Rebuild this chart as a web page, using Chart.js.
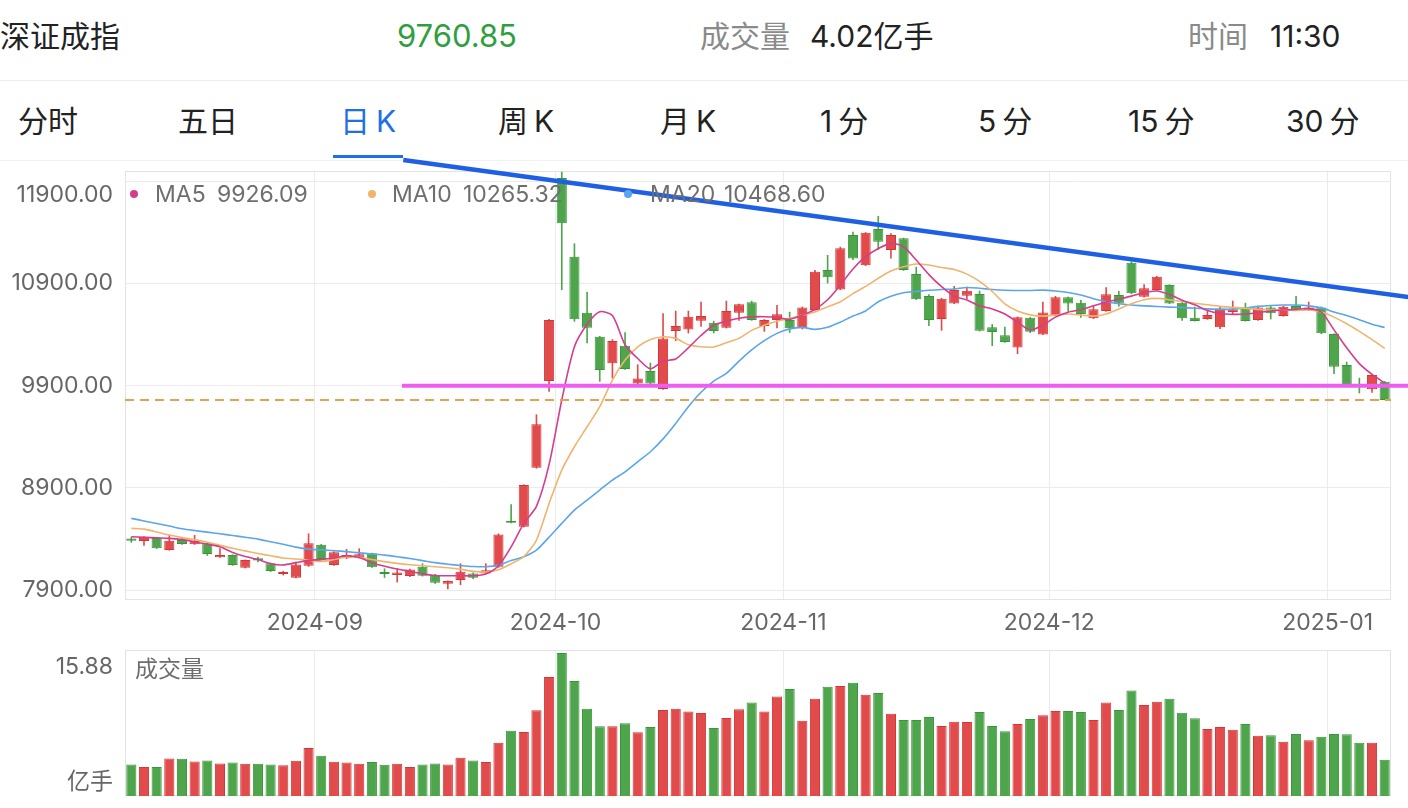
<!DOCTYPE html>
<html lang="zh-CN">
<head>
<meta charset="utf-8">
<title>深证成指 日K</title>
<script src="https://cdn.jsdelivr.net/npm/chart.js@4.4.1/dist/chart.umd.min.js"></script>
<style>
  body { margin: 0; background: #fff; font-family: Inter, "Noto Sans CJK SC", sans-serif; }
  #page { position: relative; width: 1408px; height: 808px; overflow: hidden; background: #fff; }
  .t { position: absolute; white-space: nowrap; line-height: 40px; }
  .hd { font-size: 30px; color: #222; top: 16px; }
  .grey { color: #8a8a8a; }
  .tab { font-size: 30px; color: #222; top: 101px; }
  .tab .l { margin-left: 6px; }
  .lg { font-size: 23px; color: #6e6e6e; top: 174px; }
  .dot { position: absolute; width: 8px; height: 8px; border-radius: 50%; top: 190px; }
  .sep { position: absolute; left: 0; width: 1408px; height: 1px; background: #ededed; }
  canvas { position: absolute; left: 0; }
</style>
</head>
<body>
<div id="page">
  <div class="t hd" style="left:0px">深证成指</div>
  <div class="t hd" style="left:397px;font-size:31px;color:#2f9e3f">9760.85</div>
  <div class="t hd grey" style="left:700px">成交量</div>
  <div class="t hd" style="left:810px">4.02亿手</div>
  <div class="t hd grey" style="left:1188px">时间</div>
  <div class="t hd" style="left:1270px">11:30</div>
  <div class="sep" style="top:80px"></div>

  <div class="t tab" style="left:18px">分时</div>
  <div class="t tab" style="left:178px">五日</div>
  <div class="t tab" style="left:340px;color:#1f6fe5">日<span class="l">K</span></div>
  <div class="t tab" style="left:498px">周<span class="l">K</span></div>
  <div class="t tab" style="left:660px">月<span class="l">K</span></div>
  <div class="t tab" style="left:820px">1<span class="l">分</span></div>
  <div class="t tab" style="left:978px">5<span class="l">分</span></div>
  <div class="t tab" style="left:1128px">15<span class="l">分</span></div>
  <div class="t tab" style="left:1286px">30<span class="l">分</span></div>
  <div class="sep" style="top:160px;background:#f2f2f2"></div>
  <div style="position:absolute;left:333px;top:155px;width:70px;height:3px;background:#1f6fe5"></div>

  <canvas id="price" width="1408" height="490" style="top:150px"></canvas>
  <canvas id="volume" width="1408" height="168" style="top:640px"></canvas>

  <div class="dot" style="left:130px;background:#d63c8c"></div>
  <div class="t lg" style="left:155px">MA5</div>
  <div class="t lg" style="left:217px" id="lg5"></div>
  <div class="dot" style="left:368px;background:#f0b46e"></div>
  <div class="t lg" style="left:392px">MA10</div>
  <div class="t lg" style="left:463px" id="lg10"></div>
  <div class="dot" style="left:624px;background:#5aa5eb"></div>
  <div class="t lg" style="left:650px">MA20</div>
  <div class="t lg" style="left:724px" id="lg20"></div>
  <div class="t lg" style="left:135px;top:649px">成交量</div>
</div>
<script>
// trading days 2024-08-12 .. 2025-01-08, index of first day of each month
const monthStartIdx = [15, 34, 52, 73, 95];
const monthLabels = ['2024-09', '2024-10', '2024-11', '2024-12', '2025-01'];
const priceTicks = [7900, 8900, 9900, 10900, 11900];

const open = [8405,8381,8410,8293,8391,8349,8359,8222,8244,8120,
  8212,8163,8058,8022,8140,8345,8146,8212,8218,8261,
  8075,8049,8039,8130,8049,7964,8000,8065,8065,8130,
  8575,8521,9097,9945,11930,11160,10613,10378,10118,10290,
  9922,10043,9867,10434,10450,10534,10515,10466,10613,10714,
  10483,10541,10541,10460,10639,11030,10841,11372,11076,11431,
  11226,11340,10991,10776,10551,10704,10779,10795,10470,10392,
  10274,10564,10401,10583,10763,10710,10558,10629,10786,11101,
  10769,10834,10883,10710,10564,10551,10470,10620,10665,10541,
  10665,10580,10678,10639,10665,10404,10101,9905,9864,9938];
const high = [8423,8428,8415,8440,8410,8440,8368,8310,8250,8200,
  8228,8170,8090,8179,8456,8352,8280,8303,8310,8268,
  8114,8114,8110,8163,8060,7995,8163,8075,8163,8455,
  8740,8935,9619,10551,11990,11291,10818,10385,10353,10421,
  10108,10124,10607,10632,10632,10720,10534,10730,10700,10730,
  10550,10688,10622,10672,11030,11177,11258,11404,11400,11558,
  11389,11345,11062,10793,10758,10874,10867,10828,10502,10476,
  10575,10570,10720,10776,10770,10737,10688,10861,10825,11115,
  10890,10972,10890,10716,10672,10629,10672,10730,10710,10678,
  10678,10680,10776,10720,10672,10410,10134,9977,10010,9945];
const low = [8365,8335,8305,8288,8345,8345,8237,8218,8140,8115,
  8173,8080,8045,8018,8130,8198,8140,8205,8212,8120,
  8022,7977,8030,8035,7965,7909,7951,8010,8060,8120,
  8555,8515,9090,9840,10834,10525,10314,9938,9971,10055,
  9915,9915,9860,10336,10411,10476,10411,10460,10534,10535,
  10427,10460,10417,10450,10632,10900,10835,11128,11070,11226,
  11144,11023,10738,10483,10437,10698,10744,10430,10287,10320,
  10209,10415,10395,10578,10622,10564,10552,10622,10672,10795,
  10762,10828,10698,10534,10528,10545,10453,10600,10528,10535,
  10548,10575,10640,10632,10405,10013,9885,9825,9831,9758];
const close = [8385,8423,8310,8384,8352,8381,8254,8244,8146,8195,
  8192,8088,8078,8153,8359,8205,8271,8244,8251,8124,
  8058,8075,8104,8042,7974,7990,8081,8022,8095,8446,
  8560,8928,9522,10541,11487,10548,10466,10052,10336,10062,
  9971,9922,10362,10483,10573,10580,10434,10629,10695,10541,
  10541,10597,10460,10665,11013,10959,11242,11144,11395,11307,
  11372,11030,10744,10541,10750,10834,10828,10437,10424,10326,
  10568,10427,10616,10763,10704,10600,10646,10793,10704,10802,
  10851,10965,10704,10558,10532,10590,10655,10646,10532,10665,
  10607,10672,10646,10665,10411,10085,9889,9895,10004,9760.85];

const ma5 = [8423,8418,8412,8407,8395,8375,8350,8325,8270,8230,
  8200,8160,8148,8170,8192,8200,8215,8237,8220,8170,
  8135,8108,8085,8060,8045,8042,8042,8042,8060,8140,
  8325,8554,8720,9130,9760,10280,10500,10622,10585,10300,
  10165,10065,10140,10160,10270,10390,10490,10530,10558,10572,
  10574,10568,10548,10590,10646,10740,10883,11040,11160,11240,
  11291,11258,11128,10985,10867,10775,10737,10680,10650,10600,
  10520,10444,10492,10570,10618,10642,10680,10715,10745,10775,
  10810,10825,10790,10735,10690,10635,10605,10597,10600,10615,
  10630,10639,10646,10653,10620,10445,10270,10115,10010,9926.09];
const ma10 = [8505,8498,8470,8440,8415,8395,8370,8340,8310,8285,
  8260,8237,8215,8205,8195,8182,8200,8225,8222,8200,
  8180,8163,8150,8140,8130,8120,8105,8085,8078,8100,
  8160,8228,8391,8749,9075,9303,9498,9694,9955,10150,
  10280,10350,10378,10362,10300,10280,10278,10320,10362,10440,
  10490,10530,10558,10590,10620,10670,10720,10800,10870,10950,
  11020,11062,11089,11080,11055,11035,10990,10920,10820,10700,
  10630,10592,10580,10590,10600,10590,10580,10600,10650,10700,
  10740,10753,10740,10722,10706,10690,10675,10665,10655,10646,
  10640,10638,10636,10639,10620,10570,10505,10430,10350,10265.32];
const ma20 = [8603,8578,8553,8528,8502,8484,8468,8452,8436,8418,
  8400,8375,8350,8322,8302,8295,8287,8278,8266,8255,
  8244,8228,8210,8190,8170,8155,8142,8132,8130,8146,
  8190,8228,8293,8420,8554,8684,8782,8880,8977,9058,
  9156,9254,9380,9531,9694,9835,9945,10020,10140,10250,
  10340,10411,10455,10470,10450,10470,10520,10580,10630,10720,
  10775,10808,10820,10832,10840,10845,10860,10852,10840,10832,
  10830,10830,10834,10825,10810,10786,10750,10720,10700,10688,
  10680,10674,10668,10664,10657,10650,10646,10648,10660,10675,
  10684,10688,10688,10680,10660,10620,10585,10545,10500,10468.60];

// volume, 亿手
const vol = [3.50,3.23,3.23,4.17,4.13,3.83,3.95,3.61,3.72,3.57,
  3.57,3.50,3.42,3.90,5.32,4.46,3.79,3.72,3.57,3.76,
  3.46,3.57,3.23,3.50,3.61,3.50,4.24,3.95,3.76,5.91,
  7.25,7.10,9.52,13.20,15.88,12.75,9.67,7.74,7.74,8.07,
  7.07,7.66,9.55,9.67,9.37,9.22,7.55,8.66,9.63,10.37,
  9.37,11.04,11.86,8.36,10.78,12.12,12.20,12.56,11.23,11.42,
  9.14,8.44,8.44,8.77,7.77,8.25,8.21,9.33,7.77,7.18,
  7.99,8.55,8.96,9.44,9.44,9.33,8.44,10.37,9.55,11.71,
  10.11,10.45,10.78,9.25,8.63,7.44,7.66,7.36,7.99,6.69,
  6.73,6.02,6.88,6.18,6.58,6.88,6.84,5.91,5.91,4.02];

// hand-drawn lines: [day index, price]
const trendX = [21.48, 100.92];
const trendY = [12105, 10766];
const supportX = [21.37, 100.92];
const supportY = [9900, 9900];
const lastPrice = 9760.85;

const RED = '#e24b4b', RED_EDGE = '#d23636';
const GREEN = '#4fa54c', GREEN_EDGE = '#3b953a';
const FONT = 'Inter, "Noto Sans CJK SC", sans-serif';

document.getElementById('lg5').textContent = ma5[ma5.length - 1].toFixed(2);
document.getElementById('lg10').textContent = ma10[ma10.length - 1].toFixed(2);
document.getElementById('lg20').textContent = ma20[ma20.length - 1].toFixed(2);

const n = close.length;
const up = close.map((c, i) => c >= open[i]);
const fill = up.map(u => u ? RED : GREEN);
const edge = up.map(u => u ? RED_EDGE : GREEN_EDGE);
const pts = arr => arr.map((v, i) => ({ x: i, y: v }));

const boxPlugin = {
  id: 'box',
  beforeDatasetsDraw(chart) {
    const { ctx, chartArea: a } = chart;
    ctx.save();
    ctx.strokeStyle = '#e3e3e3';
    ctx.lineWidth = 1;
    ctx.strokeRect(a.left + 0.5, a.top + 0.5, a.right - a.left - 1, a.bottom - a.top - 1);
    ctx.restore();
  }
};

// y labels, pushed inside the plot when the tick sits on its edge
function sideLabels(items, inTop, inBottom) {
  return {
    id: 'sideLabels',
    afterDraw(chart) {
      const { ctx, chartArea: a, scales } = chart;
      ctx.save();
      ctx.font = '23px ' + FONT;
      ctx.fillStyle = '#666';
      ctx.textAlign = 'right';
      ctx.textBaseline = 'middle';
      items.forEach(it => {
        let y = scales.y.getPixelForValue(it.value);
        y = Math.min(Math.max(y, a.top + inTop), a.bottom - inBottom);
        ctx.fillText(it.text, a.left - 12, y);
      });
      ctx.restore();
    }
  };
}

const xMonthAxis = (showLabels, h) => ({
  type: 'linear',
  min: -0.5,
  max: n - 0.5,
  offset: false,
  afterBuildTicks: s => { s.ticks = monthStartIdx.map(i => ({ value: i - 0.5 })); },
  afterFit: s => { s.height = h; },
  ticks: {
    display: showLabels, autoSkip: false, maxRotation: 0, padding: 9,
    color: '#666', font: { family: FONT, size: 23 },
    callback: (v, i) => monthLabels[i]
  },
  grid: { color: '#ebebeb', drawTicks: false, offset: false },
  border: { display: false }
});

new Chart(document.getElementById('price'), {
  type: 'bar',
  data: {
    datasets: [
      { label: 'wick', data: low.map((l, i) => ({ x: i, y: [l, high[i]] })),
        backgroundColor: fill, borderWidth: 0, grouped: false,
        barPercentage: 0.13, categoryPercentage: 1, order: 6 },
      { label: 'body', data: open.map((o, i) => ({ x: i, y: [o, close[i]] })),
        backgroundColor: fill, borderColor: edge, borderWidth: 1, borderSkipped: false,
        minBarLength: 2, grouped: false, barPercentage: 0.8, categoryPercentage: 1, order: 5 },
      { type: 'line', label: 'MA20', data: pts(ma20), borderColor: '#5aa5eb',
        borderWidth: 1.6, pointRadius: 0, tension: 0.25, order: 4 },
      { type: 'line', label: 'MA10', data: pts(ma10), borderColor: '#f0b46e',
        borderWidth: 1.6, pointRadius: 0, tension: 0.25, order: 3 },
      { type: 'line', label: 'MA5', data: pts(ma5), borderColor: '#d63c8c',
        borderWidth: 1.6, pointRadius: 0, tension: 0.25, order: 2 },
      { type: 'line', label: 'last', data: [{ x: -0.5, y: lastPrice }, { x: n - 0.5, y: lastPrice }],
        borderColor: '#e2a24f', borderWidth: 2, borderDash: [9, 6], pointRadius: 0, order: 1 },
      { type: 'line', label: 'support', data: supportX.map((x, i) => ({ x, y: supportY[i] })),
        borderColor: '#ee5cf0', borderWidth: 4, pointRadius: 0, clip: false, order: 1 },
      { type: 'line', label: 'trend', data: trendX.map((x, i) => ({ x, y: trendY[i] })),
        borderColor: '#1f5fe3', borderWidth: 4.5, pointRadius: 0, clip: false, order: 0 }
    ]
  },
  options: {
    responsive: false,
    animation: false,
    events: [],
    layout: { padding: { top: 21, right: 17, left: 0, bottom: 0 } },
    plugins: { legend: { display: false }, tooltip: { enabled: false } },
    scales: {
      x: xMonthAxis(true, 40),
      y: {
        min: 7805, max: 11998,
        afterBuildTicks: s => { s.ticks = priceTicks.map(v => ({ value: v })); },
        afterFit: s => { s.width = 125; },
        ticks: { display: false },
        grid: { color: '#ebebeb', drawTicks: false },
        border: { display: false }
      }
    }
  },
  plugins: [boxPlugin, sideLabels(priceTicks.map(v => ({ value: v, text: v.toFixed(2) })), 24, 0)]
});

const volMax = Math.max(...vol);
new Chart(document.getElementById('volume'), {
  type: 'bar',
  data: {
    datasets: [
      { label: '成交量', data: pts(vol), backgroundColor: fill, borderColor: edge,
        borderWidth: 1, barPercentage: 0.8, categoryPercentage: 1 }
    ]
  },
  options: {
    responsive: false,
    animation: false,
    events: [],
    layout: { padding: { top: 10, right: 17, left: 0, bottom: 12 } },
    plugins: { legend: { display: false }, tooltip: { enabled: false } },
    scales: {
      x: xMonthAxis(false, 0),
      y: {
        min: 0, max: 16.2,
        afterFit: s => { s.width = 125; },
        ticks: { display: false },
        grid: { display: false },
        border: { display: false }
      }
    }
  },
  plugins: [boxPlugin, sideLabels([
    { value: volMax, text: volMax.toFixed(2) },
    { value: 0, text: '亿手' }
  ], 17, 14)]
});
</script>
</body>
</html>
